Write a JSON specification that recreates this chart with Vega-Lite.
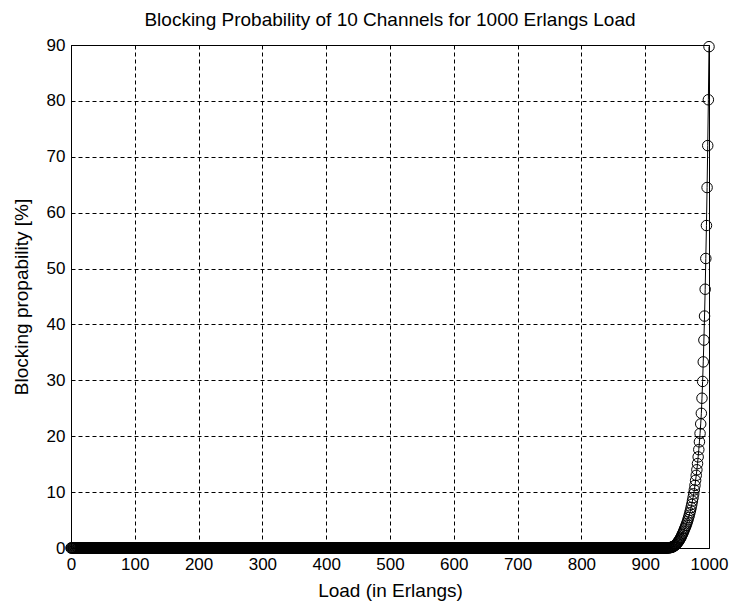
{
  "$schema": "https://vega.github.io/schema/vega-lite/v6.json",
  "autosize": {"type": "none"},
  "width": 638,
  "height": 503,
  "padding": {"left": 71, "top": 45, "right": 21, "bottom": 54},
  "background": "white",
  "title": {"text": "Blocking Probability of 10 Channels for 1000 Erlangs Load", "font": "Liberation Sans", "fontSize": 19, "fontWeight": "normal", "color": "black", "anchor": "middle", "offset": 6},
  "config": {
    "view": {"stroke": "black", "strokeWidth": 1},
    "axis": {"domainColor": "black", "grid": true, "gridColor": "black", "gridDash": [4, 3], "gridOpacity": 1, "gridWidth": 1, "ticks": false, "labelFont": "Liberation Sans", "labelFontSize": 17, "labelColor": "black", "titleFont": "Liberation Sans", "titleFontSize": 19, "titleFontWeight": "normal", "titleColor": "black"}
  },
  "data": {"values": [
{"x":0,"y":0},{"x":1,"y":0},{"x":2,"y":0},{"x":3,"y":0},{"x":4,"y":0},{"x":5,"y":0},{"x":6,"y":0},{"x":7,"y":0},{"x":8,"y":0},{"x":9,"y":0},
{"x":10,"y":0},{"x":11,"y":0},{"x":12,"y":0},{"x":13,"y":0},{"x":14,"y":0},{"x":15,"y":0},{"x":16,"y":0},{"x":17,"y":0},{"x":18,"y":0},{"x":19,"y":0},
{"x":20,"y":0},{"x":21,"y":0},{"x":22,"y":0},{"x":23,"y":0},{"x":24,"y":0},{"x":25,"y":0},{"x":26,"y":0},{"x":27,"y":0},{"x":28,"y":0},{"x":29,"y":0},
{"x":30,"y":0},{"x":31,"y":0},{"x":32,"y":0},{"x":33,"y":0},{"x":34,"y":0},{"x":35,"y":0},{"x":36,"y":0},{"x":37,"y":0},{"x":38,"y":0},{"x":39,"y":0},
{"x":40,"y":0},{"x":41,"y":0},{"x":42,"y":0},{"x":43,"y":0},{"x":44,"y":0},{"x":45,"y":0},{"x":46,"y":0},{"x":47,"y":0},{"x":48,"y":0},{"x":49,"y":0},
{"x":50,"y":0},{"x":51,"y":0},{"x":52,"y":0},{"x":53,"y":0},{"x":54,"y":0},{"x":55,"y":0},{"x":56,"y":0},{"x":57,"y":0},{"x":58,"y":0},{"x":59,"y":0},
{"x":60,"y":0},{"x":61,"y":0},{"x":62,"y":0},{"x":63,"y":0},{"x":64,"y":0},{"x":65,"y":0},{"x":66,"y":0},{"x":67,"y":0},{"x":68,"y":0},{"x":69,"y":0},
{"x":70,"y":0},{"x":71,"y":0},{"x":72,"y":0},{"x":73,"y":0},{"x":74,"y":0},{"x":75,"y":0},{"x":76,"y":0},{"x":77,"y":0},{"x":78,"y":0},{"x":79,"y":0},
{"x":80,"y":0},{"x":81,"y":0},{"x":82,"y":0},{"x":83,"y":0},{"x":84,"y":0},{"x":85,"y":0},{"x":86,"y":0},{"x":87,"y":0},{"x":88,"y":0},{"x":89,"y":0},
{"x":90,"y":0},{"x":91,"y":0},{"x":92,"y":0},{"x":93,"y":0},{"x":94,"y":0},{"x":95,"y":0},{"x":96,"y":0},{"x":97,"y":0},{"x":98,"y":0},{"x":99,"y":0},
{"x":100,"y":0},{"x":101,"y":0},{"x":102,"y":0},{"x":103,"y":0},{"x":104,"y":0},{"x":105,"y":0},{"x":106,"y":0},{"x":107,"y":0},{"x":108,"y":0},{"x":109,"y":0},
{"x":110,"y":0},{"x":111,"y":0},{"x":112,"y":0},{"x":113,"y":0},{"x":114,"y":0},{"x":115,"y":0},{"x":116,"y":0},{"x":117,"y":0},{"x":118,"y":0},{"x":119,"y":0},
{"x":120,"y":0},{"x":121,"y":0},{"x":122,"y":0},{"x":123,"y":0},{"x":124,"y":0},{"x":125,"y":0},{"x":126,"y":0},{"x":127,"y":0},{"x":128,"y":0},{"x":129,"y":0},
{"x":130,"y":0},{"x":131,"y":0},{"x":132,"y":0},{"x":133,"y":0},{"x":134,"y":0},{"x":135,"y":0},{"x":136,"y":0},{"x":137,"y":0},{"x":138,"y":0},{"x":139,"y":0},
{"x":140,"y":0},{"x":141,"y":0},{"x":142,"y":0},{"x":143,"y":0},{"x":144,"y":0},{"x":145,"y":0},{"x":146,"y":0},{"x":147,"y":0},{"x":148,"y":0},{"x":149,"y":0},
{"x":150,"y":0},{"x":151,"y":0},{"x":152,"y":0},{"x":153,"y":0},{"x":154,"y":0},{"x":155,"y":0},{"x":156,"y":0},{"x":157,"y":0},{"x":158,"y":0},{"x":159,"y":0},
{"x":160,"y":0},{"x":161,"y":0},{"x":162,"y":0},{"x":163,"y":0},{"x":164,"y":0},{"x":165,"y":0},{"x":166,"y":0},{"x":167,"y":0},{"x":168,"y":0},{"x":169,"y":0},
{"x":170,"y":0},{"x":171,"y":0},{"x":172,"y":0},{"x":173,"y":0},{"x":174,"y":0},{"x":175,"y":0},{"x":176,"y":0},{"x":177,"y":0},{"x":178,"y":0},{"x":179,"y":0},
{"x":180,"y":0},{"x":181,"y":0},{"x":182,"y":0},{"x":183,"y":0},{"x":184,"y":0},{"x":185,"y":0},{"x":186,"y":0},{"x":187,"y":0},{"x":188,"y":0},{"x":189,"y":0},
{"x":190,"y":0},{"x":191,"y":0},{"x":192,"y":0},{"x":193,"y":0},{"x":194,"y":0},{"x":195,"y":0},{"x":196,"y":0},{"x":197,"y":0},{"x":198,"y":0},{"x":199,"y":0},
{"x":200,"y":0},{"x":201,"y":0},{"x":202,"y":0},{"x":203,"y":0},{"x":204,"y":0},{"x":205,"y":0},{"x":206,"y":0},{"x":207,"y":0},{"x":208,"y":0},{"x":209,"y":0},
{"x":210,"y":0},{"x":211,"y":0},{"x":212,"y":0},{"x":213,"y":0},{"x":214,"y":0},{"x":215,"y":0},{"x":216,"y":0},{"x":217,"y":0},{"x":218,"y":0},{"x":219,"y":0},
{"x":220,"y":0},{"x":221,"y":0},{"x":222,"y":0},{"x":223,"y":0},{"x":224,"y":0},{"x":225,"y":0},{"x":226,"y":0},{"x":227,"y":0},{"x":228,"y":0},{"x":229,"y":0},
{"x":230,"y":0},{"x":231,"y":0},{"x":232,"y":0},{"x":233,"y":0},{"x":234,"y":0},{"x":235,"y":0},{"x":236,"y":0},{"x":237,"y":0},{"x":238,"y":0},{"x":239,"y":0},
{"x":240,"y":0},{"x":241,"y":0},{"x":242,"y":0},{"x":243,"y":0},{"x":244,"y":0},{"x":245,"y":0},{"x":246,"y":0},{"x":247,"y":0},{"x":248,"y":0},{"x":249,"y":0},
{"x":250,"y":0},{"x":251,"y":0},{"x":252,"y":0},{"x":253,"y":0},{"x":254,"y":0},{"x":255,"y":0},{"x":256,"y":0},{"x":257,"y":0},{"x":258,"y":0},{"x":259,"y":0},
{"x":260,"y":0},{"x":261,"y":0},{"x":262,"y":0},{"x":263,"y":0},{"x":264,"y":0},{"x":265,"y":0},{"x":266,"y":0},{"x":267,"y":0},{"x":268,"y":0},{"x":269,"y":0},
{"x":270,"y":0},{"x":271,"y":0},{"x":272,"y":0},{"x":273,"y":0},{"x":274,"y":0},{"x":275,"y":0},{"x":276,"y":0},{"x":277,"y":0},{"x":278,"y":0},{"x":279,"y":0},
{"x":280,"y":0},{"x":281,"y":0},{"x":282,"y":0},{"x":283,"y":0},{"x":284,"y":0},{"x":285,"y":0},{"x":286,"y":0},{"x":287,"y":0},{"x":288,"y":0},{"x":289,"y":0},
{"x":290,"y":0},{"x":291,"y":0},{"x":292,"y":0},{"x":293,"y":0},{"x":294,"y":0},{"x":295,"y":0},{"x":296,"y":0},{"x":297,"y":0},{"x":298,"y":0},{"x":299,"y":0},
{"x":300,"y":0},{"x":301,"y":0},{"x":302,"y":0},{"x":303,"y":0},{"x":304,"y":0},{"x":305,"y":0},{"x":306,"y":0},{"x":307,"y":0},{"x":308,"y":0},{"x":309,"y":0},
{"x":310,"y":0},{"x":311,"y":0},{"x":312,"y":0},{"x":313,"y":0},{"x":314,"y":0},{"x":315,"y":0},{"x":316,"y":0},{"x":317,"y":0},{"x":318,"y":0},{"x":319,"y":0},
{"x":320,"y":0},{"x":321,"y":0},{"x":322,"y":0},{"x":323,"y":0},{"x":324,"y":0},{"x":325,"y":0},{"x":326,"y":0},{"x":327,"y":0},{"x":328,"y":0},{"x":329,"y":0},
{"x":330,"y":0},{"x":331,"y":0},{"x":332,"y":0},{"x":333,"y":0},{"x":334,"y":0},{"x":335,"y":0},{"x":336,"y":0},{"x":337,"y":0},{"x":338,"y":0},{"x":339,"y":0},
{"x":340,"y":0},{"x":341,"y":0},{"x":342,"y":0},{"x":343,"y":0},{"x":344,"y":0},{"x":345,"y":0},{"x":346,"y":0},{"x":347,"y":0},{"x":348,"y":0},{"x":349,"y":0},
{"x":350,"y":0},{"x":351,"y":0},{"x":352,"y":0},{"x":353,"y":0},{"x":354,"y":0},{"x":355,"y":0},{"x":356,"y":0},{"x":357,"y":0},{"x":358,"y":0},{"x":359,"y":0},
{"x":360,"y":0},{"x":361,"y":0},{"x":362,"y":0},{"x":363,"y":0},{"x":364,"y":0},{"x":365,"y":0},{"x":366,"y":0},{"x":367,"y":0},{"x":368,"y":0},{"x":369,"y":0},
{"x":370,"y":0},{"x":371,"y":0},{"x":372,"y":0},{"x":373,"y":0},{"x":374,"y":0},{"x":375,"y":0},{"x":376,"y":0},{"x":377,"y":0},{"x":378,"y":0},{"x":379,"y":0},
{"x":380,"y":0},{"x":381,"y":0},{"x":382,"y":0},{"x":383,"y":0},{"x":384,"y":0},{"x":385,"y":0},{"x":386,"y":0},{"x":387,"y":0},{"x":388,"y":0},{"x":389,"y":0},
{"x":390,"y":0},{"x":391,"y":0},{"x":392,"y":0},{"x":393,"y":0},{"x":394,"y":0},{"x":395,"y":0},{"x":396,"y":0},{"x":397,"y":0},{"x":398,"y":0},{"x":399,"y":0},
{"x":400,"y":0},{"x":401,"y":0},{"x":402,"y":0},{"x":403,"y":0},{"x":404,"y":0},{"x":405,"y":0},{"x":406,"y":0},{"x":407,"y":0},{"x":408,"y":0},{"x":409,"y":0},
{"x":410,"y":0},{"x":411,"y":0},{"x":412,"y":0},{"x":413,"y":0},{"x":414,"y":0},{"x":415,"y":0},{"x":416,"y":0},{"x":417,"y":0},{"x":418,"y":0},{"x":419,"y":0},
{"x":420,"y":0},{"x":421,"y":0},{"x":422,"y":0},{"x":423,"y":0},{"x":424,"y":0},{"x":425,"y":0},{"x":426,"y":0},{"x":427,"y":0},{"x":428,"y":0},{"x":429,"y":0},
{"x":430,"y":0},{"x":431,"y":0},{"x":432,"y":0},{"x":433,"y":0},{"x":434,"y":0},{"x":435,"y":0},{"x":436,"y":0},{"x":437,"y":0},{"x":438,"y":0},{"x":439,"y":0},
{"x":440,"y":0},{"x":441,"y":0},{"x":442,"y":0},{"x":443,"y":0},{"x":444,"y":0},{"x":445,"y":0},{"x":446,"y":0},{"x":447,"y":0},{"x":448,"y":0},{"x":449,"y":0},
{"x":450,"y":0},{"x":451,"y":0},{"x":452,"y":0},{"x":453,"y":0},{"x":454,"y":0},{"x":455,"y":0},{"x":456,"y":0},{"x":457,"y":0},{"x":458,"y":0},{"x":459,"y":0},
{"x":460,"y":0},{"x":461,"y":0},{"x":462,"y":0},{"x":463,"y":0},{"x":464,"y":0},{"x":465,"y":0},{"x":466,"y":0},{"x":467,"y":0},{"x":468,"y":0},{"x":469,"y":0},
{"x":470,"y":0},{"x":471,"y":0},{"x":472,"y":0},{"x":473,"y":0},{"x":474,"y":0},{"x":475,"y":0},{"x":476,"y":0},{"x":477,"y":0},{"x":478,"y":0},{"x":479,"y":0},
{"x":480,"y":0},{"x":481,"y":0},{"x":482,"y":0},{"x":483,"y":0},{"x":484,"y":0},{"x":485,"y":0},{"x":486,"y":0},{"x":487,"y":0},{"x":488,"y":0},{"x":489,"y":0},
{"x":490,"y":0},{"x":491,"y":0},{"x":492,"y":0},{"x":493,"y":0},{"x":494,"y":0},{"x":495,"y":0},{"x":496,"y":0},{"x":497,"y":0},{"x":498,"y":0},{"x":499,"y":0},
{"x":500,"y":0},{"x":501,"y":0},{"x":502,"y":0},{"x":503,"y":0},{"x":504,"y":0},{"x":505,"y":0},{"x":506,"y":0},{"x":507,"y":0},{"x":508,"y":0},{"x":509,"y":0},
{"x":510,"y":0},{"x":511,"y":0},{"x":512,"y":0},{"x":513,"y":0},{"x":514,"y":0},{"x":515,"y":0},{"x":516,"y":0},{"x":517,"y":0},{"x":518,"y":0},{"x":519,"y":0},
{"x":520,"y":0},{"x":521,"y":0},{"x":522,"y":0},{"x":523,"y":0},{"x":524,"y":0},{"x":525,"y":0},{"x":526,"y":0},{"x":527,"y":0},{"x":528,"y":0},{"x":529,"y":0},
{"x":530,"y":0},{"x":531,"y":0},{"x":532,"y":0},{"x":533,"y":0},{"x":534,"y":0},{"x":535,"y":0},{"x":536,"y":0},{"x":537,"y":0},{"x":538,"y":0},{"x":539,"y":0},
{"x":540,"y":0},{"x":541,"y":0},{"x":542,"y":0},{"x":543,"y":0},{"x":544,"y":0},{"x":545,"y":0},{"x":546,"y":0},{"x":547,"y":0},{"x":548,"y":0},{"x":549,"y":0},
{"x":550,"y":0},{"x":551,"y":0},{"x":552,"y":0},{"x":553,"y":0},{"x":554,"y":0},{"x":555,"y":0},{"x":556,"y":0},{"x":557,"y":0},{"x":558,"y":0},{"x":559,"y":0},
{"x":560,"y":0},{"x":561,"y":0},{"x":562,"y":0},{"x":563,"y":0},{"x":564,"y":0},{"x":565,"y":0},{"x":566,"y":0},{"x":567,"y":0},{"x":568,"y":0},{"x":569,"y":0},
{"x":570,"y":0},{"x":571,"y":0},{"x":572,"y":0},{"x":573,"y":0},{"x":574,"y":0},{"x":575,"y":0},{"x":576,"y":0},{"x":577,"y":0},{"x":578,"y":0},{"x":579,"y":0},
{"x":580,"y":0},{"x":581,"y":0},{"x":582,"y":0},{"x":583,"y":0},{"x":584,"y":0},{"x":585,"y":0},{"x":586,"y":0},{"x":587,"y":0},{"x":588,"y":0},{"x":589,"y":0},
{"x":590,"y":0},{"x":591,"y":0},{"x":592,"y":0},{"x":593,"y":0},{"x":594,"y":0},{"x":595,"y":0},{"x":596,"y":0},{"x":597,"y":0},{"x":598,"y":0},{"x":599,"y":0},
{"x":600,"y":0},{"x":601,"y":0},{"x":602,"y":0},{"x":603,"y":0},{"x":604,"y":0},{"x":605,"y":0},{"x":606,"y":0},{"x":607,"y":0},{"x":608,"y":0},{"x":609,"y":0},
{"x":610,"y":0},{"x":611,"y":0},{"x":612,"y":0},{"x":613,"y":0},{"x":614,"y":0},{"x":615,"y":0},{"x":616,"y":0},{"x":617,"y":0},{"x":618,"y":0},{"x":619,"y":0},
{"x":620,"y":0},{"x":621,"y":0},{"x":622,"y":0},{"x":623,"y":0},{"x":624,"y":0},{"x":625,"y":0},{"x":626,"y":0},{"x":627,"y":0},{"x":628,"y":0},{"x":629,"y":0},
{"x":630,"y":0},{"x":631,"y":0},{"x":632,"y":0},{"x":633,"y":0},{"x":634,"y":0},{"x":635,"y":0},{"x":636,"y":0},{"x":637,"y":0},{"x":638,"y":0},{"x":639,"y":0},
{"x":640,"y":0},{"x":641,"y":0},{"x":642,"y":0},{"x":643,"y":0},{"x":644,"y":0},{"x":645,"y":0},{"x":646,"y":0},{"x":647,"y":0},{"x":648,"y":0},{"x":649,"y":0},
{"x":650,"y":0},{"x":651,"y":0},{"x":652,"y":0},{"x":653,"y":0},{"x":654,"y":0},{"x":655,"y":0},{"x":656,"y":0},{"x":657,"y":0},{"x":658,"y":0},{"x":659,"y":0},
{"x":660,"y":0},{"x":661,"y":0},{"x":662,"y":0},{"x":663,"y":0},{"x":664,"y":0},{"x":665,"y":0},{"x":666,"y":0},{"x":667,"y":0},{"x":668,"y":0},{"x":669,"y":0},
{"x":670,"y":0},{"x":671,"y":0},{"x":672,"y":0},{"x":673,"y":0},{"x":674,"y":0},{"x":675,"y":0},{"x":676,"y":0},{"x":677,"y":0},{"x":678,"y":0},{"x":679,"y":0},
{"x":680,"y":0},{"x":681,"y":0},{"x":682,"y":0},{"x":683,"y":0},{"x":684,"y":0},{"x":685,"y":0},{"x":686,"y":0},{"x":687,"y":0},{"x":688,"y":0},{"x":689,"y":0},
{"x":690,"y":0},{"x":691,"y":0},{"x":692,"y":0},{"x":693,"y":0},{"x":694,"y":0},{"x":695,"y":0},{"x":696,"y":0},{"x":697,"y":0},{"x":698,"y":0},{"x":699,"y":0},
{"x":700,"y":0},{"x":701,"y":0},{"x":702,"y":0},{"x":703,"y":0},{"x":704,"y":0},{"x":705,"y":0},{"x":706,"y":0},{"x":707,"y":0},{"x":708,"y":0},{"x":709,"y":0},
{"x":710,"y":0},{"x":711,"y":0},{"x":712,"y":0},{"x":713,"y":0},{"x":714,"y":0},{"x":715,"y":0},{"x":716,"y":0},{"x":717,"y":0},{"x":718,"y":0},{"x":719,"y":0},
{"x":720,"y":0},{"x":721,"y":0},{"x":722,"y":0},{"x":723,"y":0},{"x":724,"y":0},{"x":725,"y":0},{"x":726,"y":0},{"x":727,"y":0},{"x":728,"y":0},{"x":729,"y":0},
{"x":730,"y":0},{"x":731,"y":0},{"x":732,"y":0},{"x":733,"y":0},{"x":734,"y":0},{"x":735,"y":0},{"x":736,"y":0},{"x":737,"y":0},{"x":738,"y":0},{"x":739,"y":0},
{"x":740,"y":0},{"x":741,"y":0},{"x":742,"y":0},{"x":743,"y":0},{"x":744,"y":0},{"x":745,"y":0},{"x":746,"y":0},{"x":747,"y":0},{"x":748,"y":0},{"x":749,"y":0},
{"x":750,"y":0},{"x":751,"y":0},{"x":752,"y":0},{"x":753,"y":0},{"x":754,"y":0},{"x":755,"y":0},{"x":756,"y":0},{"x":757,"y":0},{"x":758,"y":0},{"x":759,"y":0},
{"x":760,"y":0},{"x":761,"y":0},{"x":762,"y":0},{"x":763,"y":0},{"x":764,"y":0},{"x":765,"y":0},{"x":766,"y":0},{"x":767,"y":0},{"x":768,"y":0},{"x":769,"y":0},
{"x":770,"y":0},{"x":771,"y":0},{"x":772,"y":0},{"x":773,"y":0},{"x":774,"y":0},{"x":775,"y":0},{"x":776,"y":0},{"x":777,"y":0},{"x":778,"y":0},{"x":779,"y":0},
{"x":780,"y":0},{"x":781,"y":0},{"x":782,"y":0},{"x":783,"y":0},{"x":784,"y":0},{"x":785,"y":0},{"x":786,"y":0},{"x":787,"y":0},{"x":788,"y":0},{"x":789,"y":0},
{"x":790,"y":0},{"x":791,"y":0},{"x":792,"y":0},{"x":793,"y":0},{"x":794,"y":0},{"x":795,"y":0},{"x":796,"y":0},{"x":797,"y":0},{"x":798,"y":0},{"x":799,"y":0},
{"x":800,"y":0},{"x":801,"y":0},{"x":802,"y":0},{"x":803,"y":0},{"x":804,"y":0},{"x":805,"y":0},{"x":806,"y":0},{"x":807,"y":0},{"x":808,"y":0},{"x":809,"y":0},
{"x":810,"y":0},{"x":811,"y":0},{"x":812,"y":0},{"x":813,"y":0},{"x":814,"y":0},{"x":815,"y":0},{"x":816,"y":0},{"x":817,"y":0},{"x":818,"y":0},{"x":819,"y":0},
{"x":820,"y":0},{"x":821,"y":0},{"x":822,"y":0},{"x":823,"y":0},{"x":824,"y":0},{"x":825,"y":0},{"x":826,"y":0},{"x":827,"y":0},{"x":828,"y":0},{"x":829,"y":0},
{"x":830,"y":0},{"x":831,"y":0},{"x":832,"y":0},{"x":833,"y":0},{"x":834,"y":0},{"x":835,"y":0},{"x":836,"y":0},{"x":837,"y":0},{"x":838,"y":0},{"x":839,"y":0},
{"x":840,"y":0},{"x":841,"y":0},{"x":842,"y":0},{"x":843,"y":0},{"x":844,"y":0},{"x":845,"y":0},{"x":846,"y":0},{"x":847,"y":0},{"x":848,"y":0},{"x":849,"y":0},
{"x":850,"y":0},{"x":851,"y":0},{"x":852,"y":0},{"x":853,"y":0},{"x":854,"y":0},{"x":855,"y":0},{"x":856,"y":0},{"x":857,"y":0},{"x":858,"y":0},{"x":859,"y":0},
{"x":860,"y":0},{"x":861,"y":0},{"x":862,"y":0},{"x":863,"y":0},{"x":864,"y":0},{"x":865,"y":0},{"x":866,"y":0},{"x":867,"y":0},{"x":868,"y":0},{"x":869,"y":0},
{"x":870,"y":0},{"x":871,"y":0},{"x":872,"y":0},{"x":873,"y":0},{"x":874,"y":0},{"x":875,"y":0},{"x":876,"y":0},{"x":877,"y":0},{"x":878,"y":0},{"x":879,"y":0},
{"x":880,"y":0},{"x":881,"y":0},{"x":882,"y":0},{"x":883,"y":0},{"x":884,"y":0},{"x":885,"y":0},{"x":886,"y":0},{"x":887,"y":0},{"x":888,"y":0},{"x":889,"y":0},
{"x":890,"y":0},{"x":891,"y":0},{"x":892,"y":0},{"x":893,"y":0},{"x":894,"y":0},{"x":895,"y":0},{"x":896,"y":0},{"x":897,"y":0},{"x":898,"y":0},{"x":899,"y":0},
{"x":900,"y":0},{"x":901,"y":0},{"x":902,"y":0},{"x":903,"y":0},{"x":904,"y":0},{"x":905,"y":0},{"x":906,"y":0},{"x":907,"y":0},{"x":908,"y":0},{"x":909,"y":0},
{"x":910,"y":0},{"x":911,"y":0},{"x":912,"y":0},{"x":913,"y":0},{"x":914,"y":0},{"x":915,"y":0},{"x":916,"y":0},{"x":917,"y":0},{"x":918,"y":0},{"x":919,"y":0},
{"x":920,"y":0},{"x":921,"y":0},{"x":922,"y":0},{"x":923,"y":0},{"x":924,"y":0},{"x":925,"y":0},{"x":926,"y":0},{"x":927,"y":0},{"x":928,"y":0},{"x":929,"y":0},
{"x":930,"y":0},{"x":931,"y":0},{"x":932,"y":0},{"x":933,"y":0},{"x":934,"y":0.01},{"x":935,"y":0.02},{"x":936,"y":0.03},{"x":937,"y":0.04},{"x":938,"y":0.05},{"x":939,"y":0.07},
{"x":940,"y":0.09},{"x":941,"y":0.12},{"x":942,"y":0.16},{"x":943,"y":0.2},{"x":944,"y":0.26},{"x":945,"y":0.33},{"x":946,"y":0.41},{"x":947,"y":0.5},{"x":948,"y":0.6},{"x":949,"y":0.72},
{"x":950,"y":0.85},{"x":951,"y":1.0},{"x":952,"y":1.15},{"x":953,"y":1.3},{"x":954,"y":1.5},{"x":955,"y":1.7},{"x":956,"y":1.9},{"x":957,"y":2.15},{"x":958,"y":2.4},{"x":959,"y":2.65},
{"x":960,"y":2.9},{"x":961,"y":3.2},{"x":962,"y":3.5},{"x":963,"y":3.75},{"x":964,"y":4.05},{"x":965,"y":4.35},{"x":966,"y":4.7},{"x":967,"y":5.05},{"x":968,"y":5.45},{"x":969,"y":5.85},
{"x":970,"y":6.3},{"x":971,"y":6.75},{"x":972,"y":7.25},{"x":973,"y":7.8},{"x":974,"y":8.4},{"x":975,"y":9.0},{"x":976,"y":9.7},{"x":977,"y":10.4},{"x":978,"y":11.2},{"x":979,"y":12.1},
{"x":980,"y":13.0},{"x":981,"y":14.0},{"x":982,"y":15.1},{"x":983,"y":16.3},{"x":984,"y":17.6},{"x":985,"y":19.0},{"x":986,"y":20.5},{"x":987,"y":22.2},{"x":988,"y":24.1},{"x":989,"y":26.8},
{"x":990,"y":29.8},{"x":991,"y":33.3},{"x":992,"y":37.2},{"x":993,"y":41.5},{"x":994,"y":46.3},{"x":995,"y":51.8},{"x":996,"y":57.7},{"x":997,"y":64.5},{"x":998,"y":72.0},{"x":999,"y":80.2},
{"x":1000,"y":89.7}
  ]},
  "encoding": {
    "x": {"field": "x", "type": "quantitative", "scale": {"domain": [0, 1000], "nice": false}, "axis": {"title": "Load (in Erlangs)", "values": [0,100,200,300,400,500,600,700,800,900,1000], "labelPadding": 8, "titlePadding": 9, "labelFlush": false, "format": "d"}},
    "y": {"field": "y", "type": "quantitative", "scale": {"domain": [0, 90], "nice": false}, "axis": {"title": "Blocking propability [%]", "values": [0,10,20,30,40,50,60,70,80,90], "labelPadding": 6, "titlePadding": 15, "labelFlush": false, "format": "d"}}
  },
  "layer": [
    {"mark": {"type": "line", "color": "black", "strokeWidth": 1, "clip": false}},
    {"mark": {"type": "point", "shape": "circle", "filled": false, "color": "black", "opacity": 1, "strokeWidth": 1, "size": 110, "clip": false}}
  ]
}
